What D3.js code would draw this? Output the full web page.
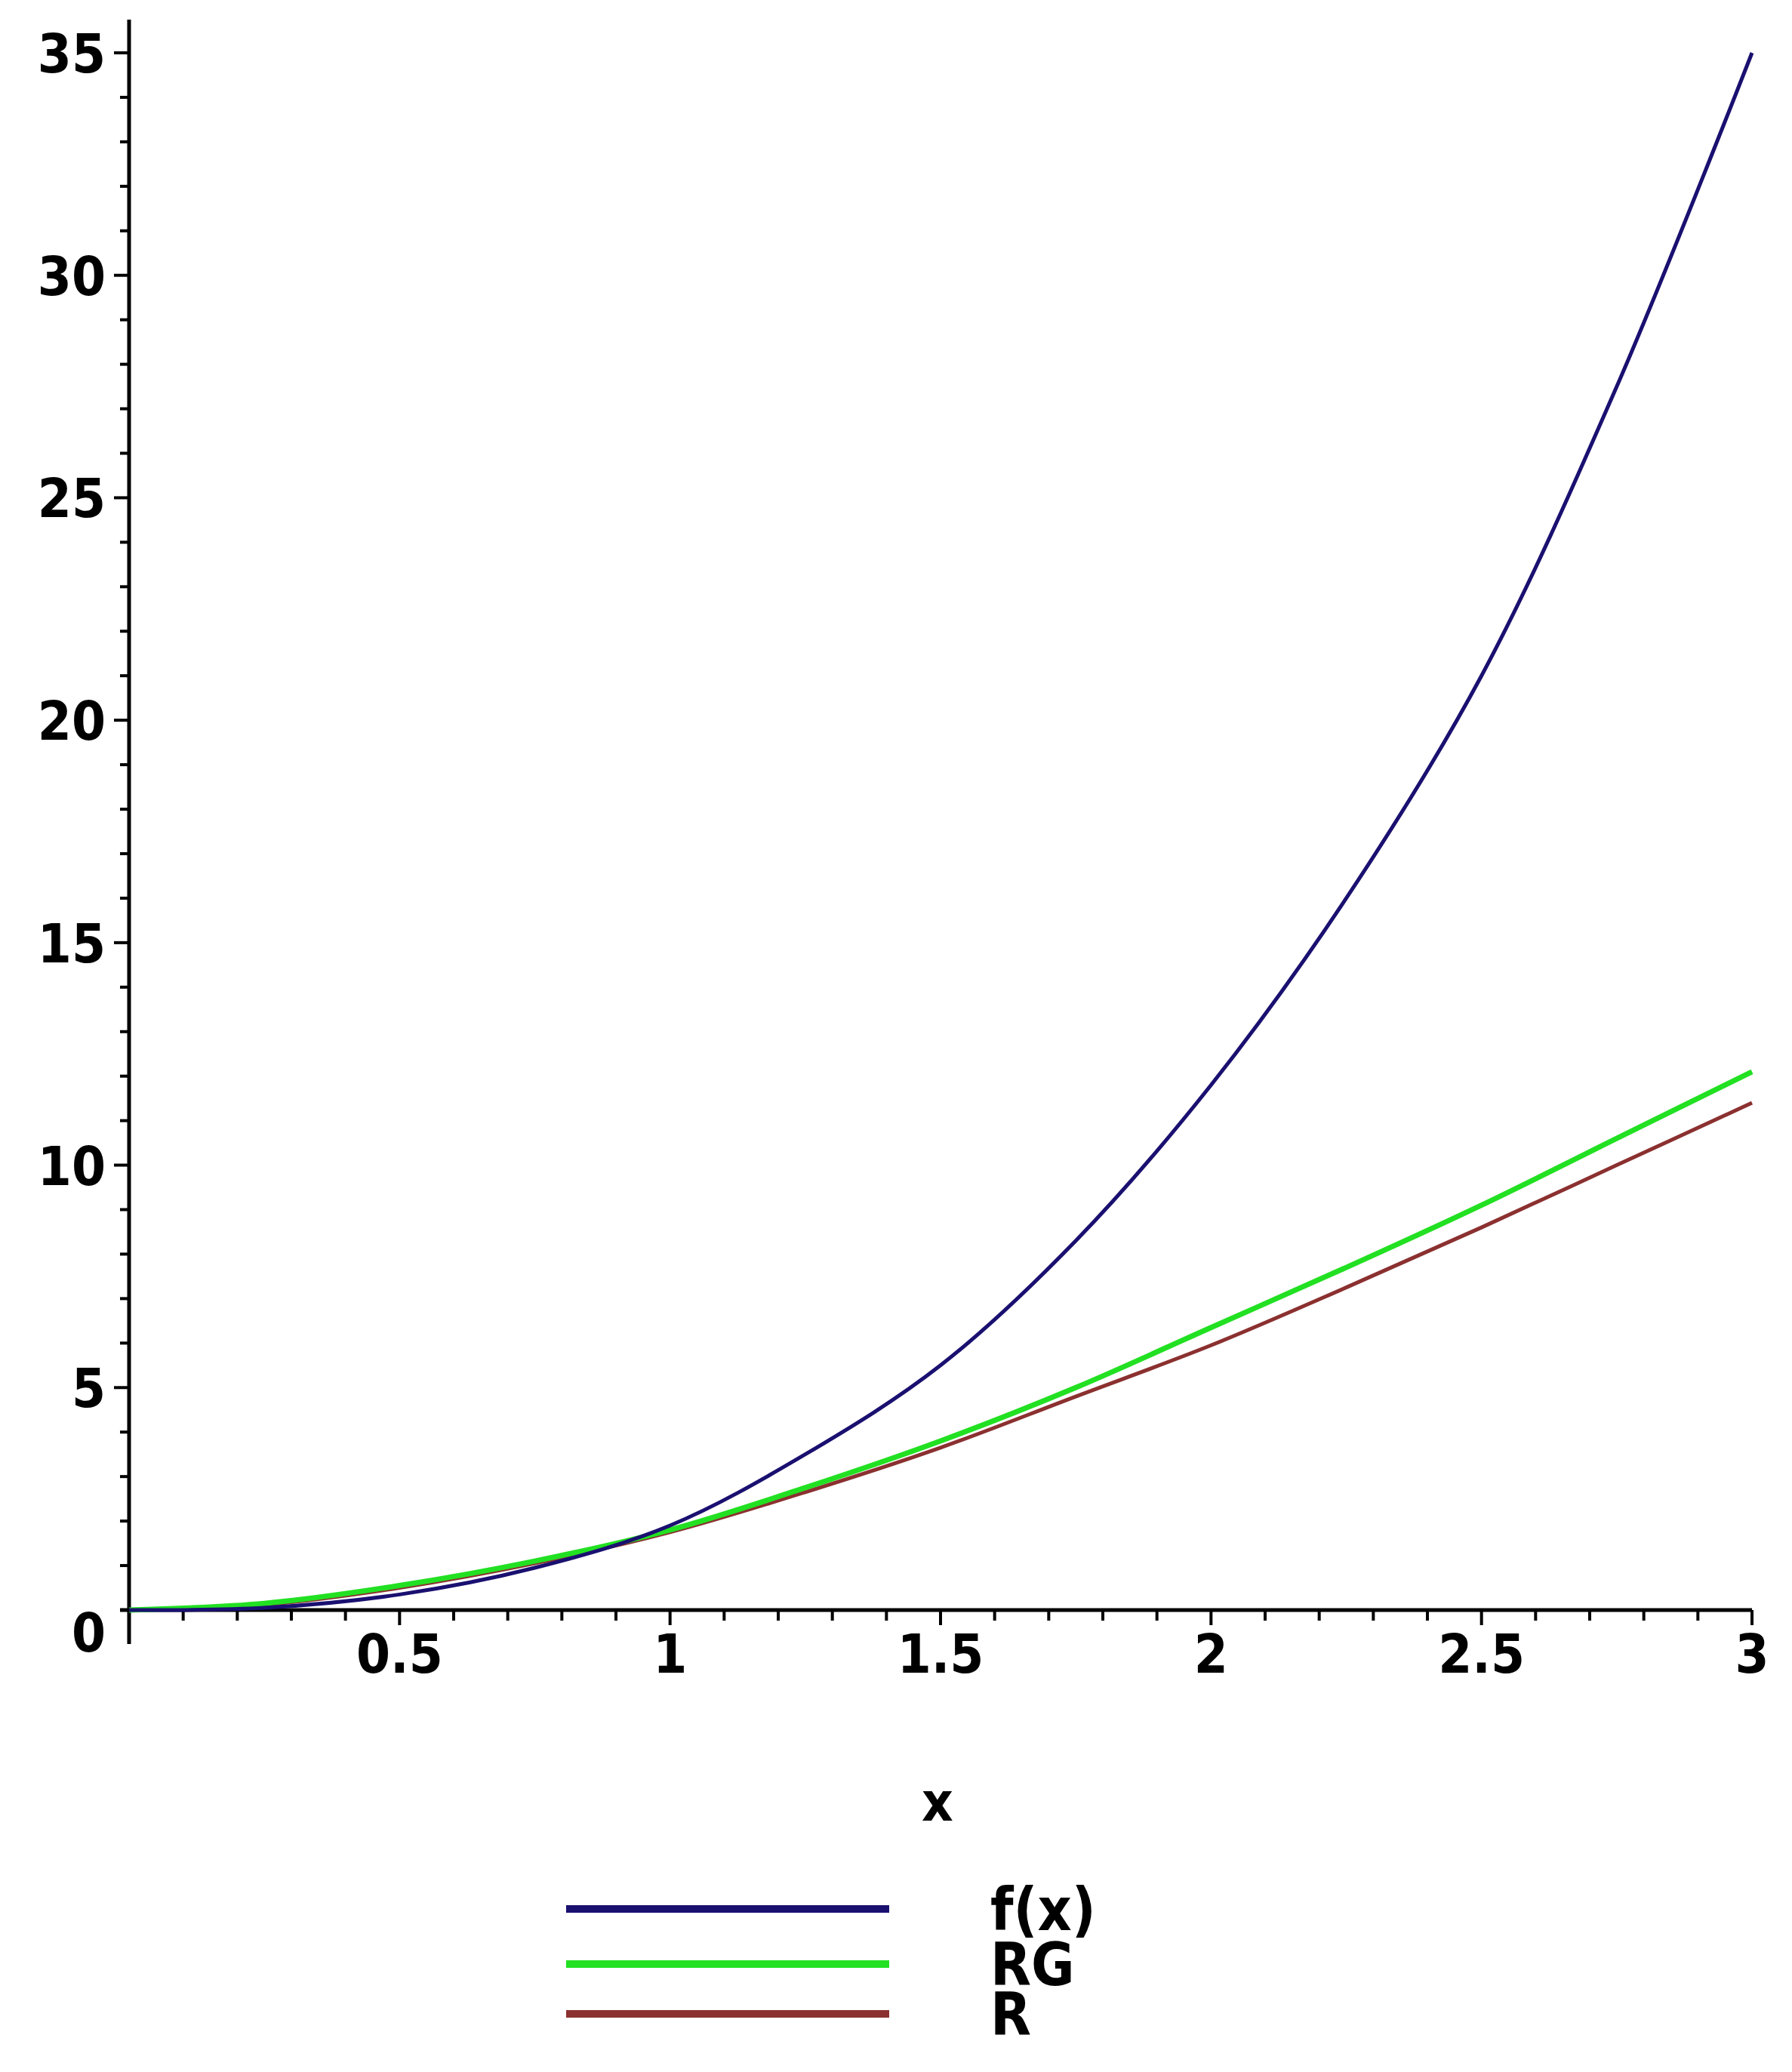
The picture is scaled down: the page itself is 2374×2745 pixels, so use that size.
<!DOCTYPE html><html><head><meta charset="utf-8">
<script src="https://cdn.jsdelivr.net/npm/d3@7"></script>
<style>body{margin:0;background:#fff}text{font-family:"Liberation Sans Narrow","DejaVu Sans Condensed","Liberation Sans",sans-serif;font-weight:bold;fill:#000}</style>
</head><body><svg id="c" width="2374" height="2745"></svg><script>
const xs=[0,0.25,0.5,0.75,1,1.25,1.5,1.75,2,2.25,2.5,2.75,3];
const fVals=[0,0.05,0.35,0.95,1.9,3.5,5.5,8.3,11.8,16.0,21.0,27.5,35.0];
const rgVals=[0,0.15,0.55,1.1,1.8,2.75,3.8,5.0,6.35,7.7,9.1,10.6,12.1];
const rVals=[0,0.12,0.5,1.05,1.75,2.65,3.65,4.8,5.95,7.25,8.6,10.0,11.4];
const xTicks=[0.5,1,1.5,2,2.5,3];
const yTicks=[0,5,10,15,20,25,30,35];
const names=["f(x)","RG","R"];
const colors=["#1a1070","#22e022","#8b3030"];
const svg=d3.select("#c");
const x=d3.scaleLinear().domain([0,3]).range([171,2321]);
const y=d3.scaleLinear().domain([0,35]).range([2133,70]);
const g=svg.append("g");
g.append("line").attr("x1",x(0)-12).attr("x2",x(3)).attr("y1",y(0)).attr("y2",y(0)).attr("stroke","#000").attr("stroke-width",5);
g.append("line").attr("x1",x(0)).attr("x2",x(0)).attr("y1",y(0)+45).attr("y2",26).attr("stroke","#000").attr("stroke-width",5);
d3.range(1,31).forEach(i=>{const v=i/10;g.append("line").attr("x1",x(v)).attr("x2",x(v)).attr("y1",y(0)).attr("y2",y(0)+(i%5==0?20:14)).attr("stroke","#000").attr("stroke-width",4);});
d3.range(1,36).forEach(v=>{g.append("line").attr("x1",x(0)).attr("x2",x(0)-(v%5==0?20:12)).attr("y1",y(v)).attr("y2",y(v)).attr("stroke","#000").attr("stroke-width",4);});
xTicks.forEach(v=>g.append("text").attr("x",x(v)).attr("y",2216).attr("text-anchor","middle").attr("font-size",72).text(v));
yTicks.forEach(v=>g.append("text").attr("x",140).attr("y",y(v)+(v==0?55:26)).attr("text-anchor","end").attr("font-size",72).text(v));
g.append("text").attr("x",1242).attr("y",2412).attr("text-anchor","middle").attr("font-size",72).text("x");
const line=d3.line().x((d,i)=>x(xs[i])).y(d=>y(d)).curve(d3.curveCatmullRom);
[fVals,rgVals,rVals].reverse().forEach((s,k)=>{const i=2-k;g.append("path").attr("d",line(s)).attr("fill","none").attr("stroke",colors[i]).attr("stroke-width",i==1?7:5);});
const ly=[2529,2602,2668];
names.forEach((n,i)=>{g.append("line").attr("x1",750).attr("x2",1178).attr("y1",ly[i]).attr("y2",ly[i]).attr("stroke",colors[i]).attr("stroke-width",10);
g.append("text").attr("x",1312).attr("y",ly[i]+28).attr("font-size",78).text(n);});
</script></body></html>
